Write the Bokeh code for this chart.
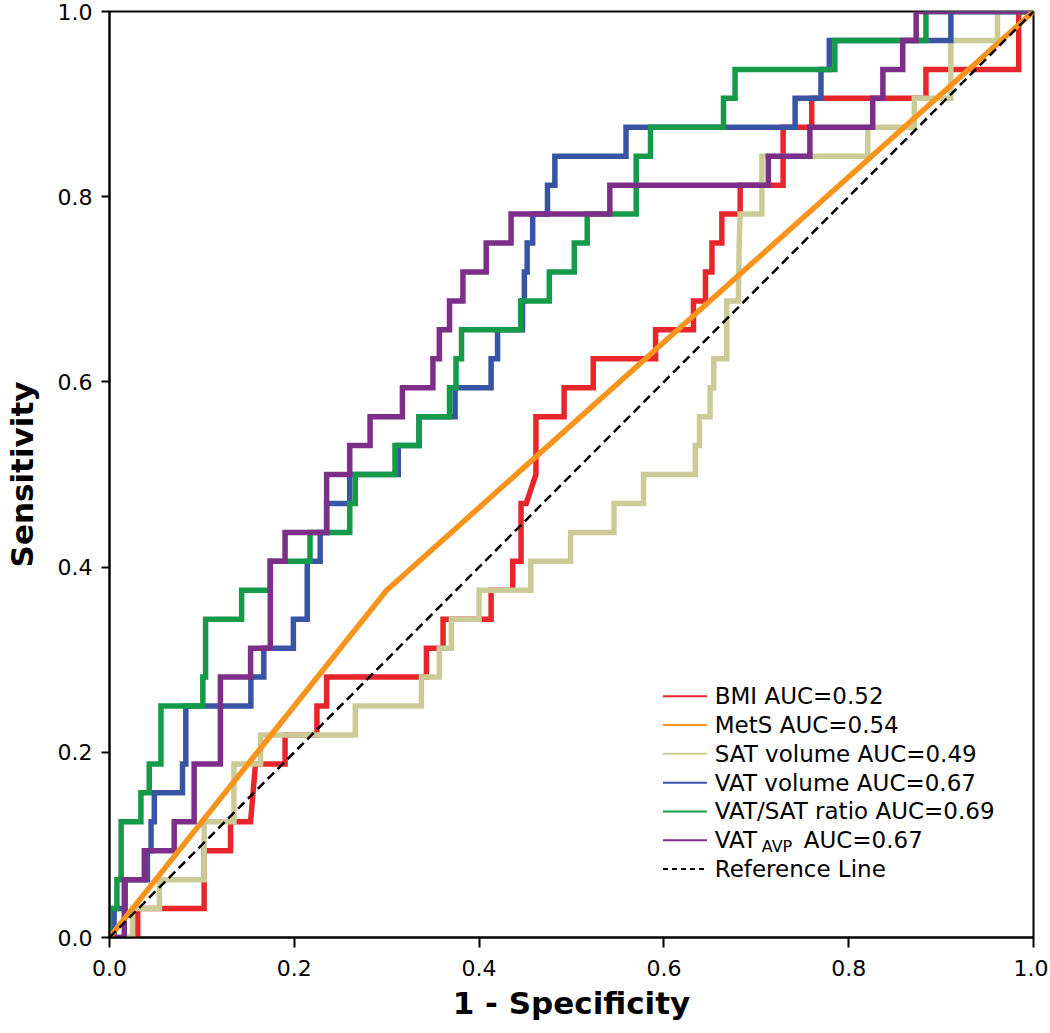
from bokeh.plotting import figure
from bokeh.models import Range1d, FixedTicker, Label, Arrow
from bokeh.embed import file_html
from bokeh.resources import INLINE

# ---------------- data ----------------
N_POS = 32  # number of positive cases (sensitivity steps of 1/32)

tick_values = [0.0, 0.2, 0.4, 0.6, 0.8, 1.0]
tick_labels = ["0.0", "0.2", "0.4", "0.6", "0.8", "1.0"]

# ROC vertices: 1 - specificity and true-positive counts (out of N_POS)
bmi_fpr = [0, 0.0305, 0.0305, 0.1024, 0.1024, 0.131, 0.131, 0.1527, 0.158, 0.19,
           0.19, 0.2245, 0.2245, 0.235, 0.235, 0.343, 0.343, 0.361, 0.361, 0.413,
           0.413, 0.4364, 0.4364, 0.4454, 0.4454, 0.451, 0.4615, 0.4615, 0.492, 0.492,
           0.5235, 0.5235, 0.591, 0.591, 0.632, 0.632, 0.645, 0.645, 0.652, 0.652,
           0.6627, 0.6627, 0.6825, 0.6825, 0.729, 0.729, 0.76, 0.76, 0.8836, 0.8836,
           0.984, 0.984, 1]
bmi_tp = [0, 0, 1, 1, 3, 3, 4, 4, 6, 6,
          7, 7, 8, 8, 9, 9, 10, 10, 11, 11,
          12, 12, 13, 13, 15, 15, 16, 18, 18, 19,
          19, 20, 20, 21, 21, 22, 22, 23, 23, 24,
          24, 25, 25, 26, 26, 28, 28, 29, 29, 30,
          30, 32, 32]

mets_fpr = [0, 0.30, 1]
mets_tp = [0, 12, 32]

sat_fpr = [0, 0.025, 0.025, 0.054, 0.054, 0.1024, 0.1024, 0.1347, 0.1347, 0.1635,
           0.1635, 0.266, 0.266, 0.3376, 0.3376, 0.357, 0.357, 0.37, 0.37, 0.40,
           0.40, 0.456, 0.456, 0.499, 0.499, 0.546, 0.546, 0.578, 0.578, 0.634,
           0.634, 0.6385, 0.6385, 0.65, 0.65, 0.654, 0.654, 0.668, 0.668, 0.6806,
           0.6815, 0.6825, 0.706, 0.706, 0.8207, 0.8207, 0.871, 0.871, 0.9106, 0.9106,
           0.961, 0.961, 1]
sat_tp = [0, 0, 1, 1, 2, 2, 4, 4, 6, 6,
          7, 7, 8, 8, 9, 9, 10, 10, 11, 11,
          12, 12, 13, 13, 14, 14, 15, 15, 16, 16,
          17, 17, 18, 18, 19, 19, 20, 20, 22, 22,
          24, 25, 25, 27, 27, 28, 28, 29, 29, 31,
          31, 32, 32]

vat_fpr = [0, 0.005, 0.005, 0.017, 0.017, 0.041, 0.041, 0.045, 0.045, 0.0485,
           0.0485, 0.079, 0.079, 0.0826, 0.0826, 0.153, 0.153, 0.167, 0.167, 0.199,
           0.199, 0.214, 0.214, 0.228, 0.228, 0.235, 0.235, 0.26, 0.26, 0.3125,
           0.3125, 0.335, 0.335, 0.374, 0.374, 0.413, 0.413, 0.42, 0.42, 0.447,
           0.447, 0.449, 0.449, 0.452, 0.452, 0.458, 0.458, 0.474, 0.474, 0.482,
           0.482, 0.559, 0.559, 0.742, 0.742, 0.770, 0.770, 0.779, 0.779, 0.9106,
           0.9106, 1]
vat_tp = [0, 0, 1, 1, 2, 2, 3, 3, 4, 4,
          5, 5, 6, 6, 8, 8, 9, 9, 10, 10,
          11, 11, 13, 13, 14, 14, 15, 15, 16, 16,
          17, 17, 18, 18, 19, 19, 20, 20, 21, 21,
          22, 22, 23, 23, 24, 24, 25, 25, 26, 26,
          27, 27, 28, 28, 29, 29, 30, 30, 31, 31,
          32, 32]

ratio_fpr = [0, 0, 0.008, 0.008, 0.0126, 0.0126, 0.034, 0.034, 0.043, 0.043,
             0.0557, 0.0557, 0.101, 0.101, 0.104, 0.104, 0.143, 0.143, 0.174, 0.174,
             0.217, 0.217, 0.26, 0.26, 0.266, 0.266, 0.309, 0.309, 0.335, 0.335,
             0.368, 0.368, 0.375, 0.375, 0.381, 0.381, 0.445, 0.445, 0.476, 0.476,
             0.503, 0.503, 0.517, 0.517, 0.570, 0.570, 0.5855, 0.5855, 0.6645, 0.6645,
             0.677, 0.677, 0.785, 0.785, 0.8836, 0.8836, 1]
ratio_tp = [0, 1, 1, 2, 2, 4, 4, 5, 5, 6,
            6, 8, 8, 9, 9, 11, 11, 12, 12, 13,
            13, 14, 14, 15, 15, 16, 16, 17, 17, 18,
            18, 19, 19, 20, 20, 21, 21, 22, 22, 23,
            23, 24, 24, 25, 25, 27, 27, 28, 28, 29,
            29, 30, 30, 31, 31, 32, 32]

avp_fpr = [0, 0.016, 0.016, 0.0377, 0.0377, 0.07, 0.07, 0.0916, 0.0916, 0.12,
           0.12, 0.1527, 0.1527, 0.174, 0.174, 0.19, 0.19, 0.235, 0.235, 0.26,
           0.26, 0.282, 0.282, 0.317, 0.317, 0.35, 0.35, 0.357, 0.357, 0.368,
           0.368, 0.3825, 0.3825, 0.4077, 0.4077, 0.4346, 0.4346, 0.5415, 0.5415, 0.713,
           0.713, 0.758, 0.758, 0.826, 0.826, 0.837, 0.837, 0.8585, 0.8585, 0.873,
           0.873, 1]
avp_tp = [0, 0, 2, 2, 3, 3, 4, 4, 6, 6,
          9, 9, 10, 10, 13, 13, 14, 14, 16, 16,
          17, 17, 18, 18, 19, 19, 20, 20, 21, 21,
          22, 22, 23, 23, 24, 24, 25, 25, 26, 26,
          27, 27, 28, 28, 29, 29, 30, 30, 31, 31,
          32, 32]

ref_x = [0, 1]
ref_y = [0, 1]

colors = {
    "bmi": "#E8252B",
    "mets": "#F7941E",
    "sat": "#CBCB98",
    "vat": "#3954A5",
    "ratio": "#159A4A",
    "avp": "#7D2E89",
    "ref": "#000000",
}

legend_labels = ["BMI AUC=0.52", "MetS AUC=0.54", "SAT volume AUC=0.49",
                 "VAT volume AUC=0.67", "VAT/SAT ratio AUC=0.69",
                 ("VAT", "AVP", "AUC=0.67"), "Reference Line"]
legend_keys = ["bmi", "mets", "sat", "vat", "ratio", "avp", "ref"]

# ---------------- figure ----------------
FONT = "DejaVu Sans"

p = figure(width=1048, height=1031,
           x_range=Range1d(0, 1), y_range=Range1d(0, 1),
           output_backend="svg", toolbar_location=None,
           min_border_left=105, min_border_right=15,
           min_border_top=11, min_border_bottom=94,
           background_fill_color="white", border_fill_color="white")

p.xgrid.visible = False
p.ygrid.visible = False
p.outline_line_color = "black"
p.outline_line_width = 2

for ax in (p.xaxis[0], p.yaxis[0]):
    ax.ticker = FixedTicker(ticks=tick_values)
    ax.major_label_overrides = dict(zip(tick_values, tick_labels))
    ax.minor_tick_line_color = None
    ax.axis_line_width = 2
    ax.major_tick_line_width = 2
    ax.major_tick_in = 0
    ax.major_label_text_font = FONT
    ax.major_label_text_font_size = "22px"
    ax.major_label_text_color = "black"
    ax.axis_label_text_font = FONT
    ax.axis_label_text_font_style = "bold"
    ax.axis_label_text_font_size = "31px"
    ax.axis_label_text_color = "black"

p.xaxis.axis_label = "1 - Specificity"
p.xaxis.major_tick_out = 10
p.xaxis.major_label_standoff = 12
p.xaxis.axis_label_standoff = 6

p.yaxis.axis_label = "Sensitivity"
p.yaxis.major_tick_out = 8
p.yaxis.major_label_standoff = 9
p.yaxis.axis_label_standoff = 15

def sens(tp):
    return [t / N_POS for t in tp]

LW = 5.5
p.line(bmi_fpr, sens(bmi_tp), line_color=colors["bmi"], line_width=LW, line_join="miter")
p.line(sat_fpr, sens(sat_tp), line_color=colors["sat"], line_width=LW, line_join="miter")
p.line(vat_fpr, sens(vat_tp), line_color=colors["vat"], line_width=LW, line_join="miter")
p.line(ratio_fpr, sens(ratio_tp), line_color=colors["ratio"], line_width=LW, line_join="miter")
p.line(avp_fpr, sens(avp_tp), line_color=colors["avp"], line_width=LW, line_join="miter")
p.line(mets_fpr, sens(mets_tp), line_color=colors["mets"], line_width=LW, line_join="round")
p.line(ref_x, ref_y, line_color=colors["ref"], line_width=2.5, line_dash="9 5")

# ---------------- legend (manual, to allow the subscript) ----------------
LEG_X0, LEG_X1, LEG_TX = 0.599, 0.6466, 0.655
LEG_Y0, LEG_DY = 0.2605, 0.0311
for i, (key, lab) in enumerate(zip(legend_keys, legend_labels)):
    yy = LEG_Y0 - i * LEG_DY
    p.add_layout(Arrow(end=None, x_start=LEG_X0, y_start=yy, x_end=LEG_X1, y_end=yy,
                       line_color=colors[key], line_width=2,
                       line_dash="5 4" if key == "ref" else "solid"))
    if isinstance(lab, tuple):
        main, sub, rest = lab
        p.add_layout(Label(x=LEG_TX, y=yy, text=main, text_font=FONT,
                           text_font_size="23px", text_baseline="middle",
                           text_color="black"))
        p.add_layout(Label(x=LEG_TX, y=yy, x_offset=47, y_offset=-6, text=sub,
                           text_font=FONT, text_font_size="16px",
                           text_baseline="middle", text_color="black"))
        p.add_layout(Label(x=LEG_TX, y=yy, x_offset=89, text=rest, text_font=FONT,
                           text_font_size="23px", text_baseline="middle",
                           text_color="black"))
    else:
        p.add_layout(Label(x=LEG_TX, y=yy, text=lab, text_font=FONT,
                           text_font_size="23px", text_baseline="middle",
                           text_color="black"))

open("out.html", "w").write(file_html(p, INLINE))
